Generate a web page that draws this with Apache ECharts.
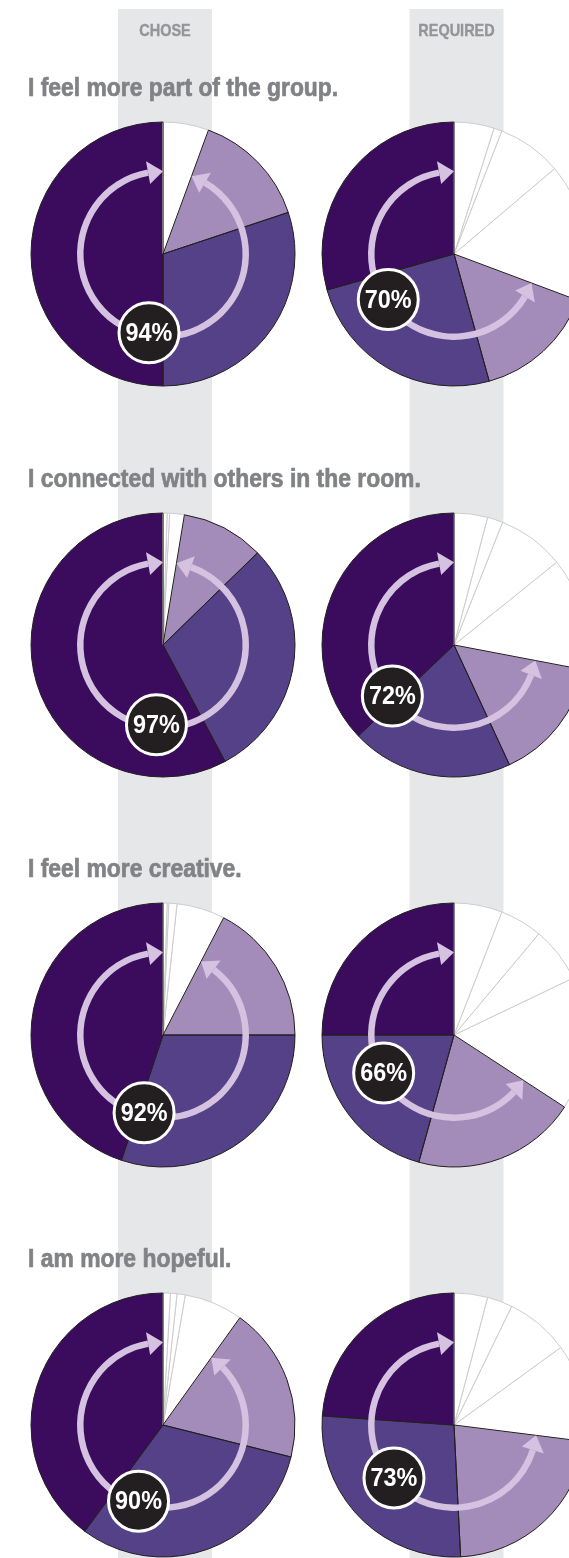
<!DOCTYPE html>
<html>
<head>
<meta charset="utf-8">
<script src="https://cdn.jsdelivr.net/npm/echarts@6/dist/echarts.min.js"></script>
<style>
html,body{margin:0;padding:0;background:#ffffff;}
#c{width:569px;height:1558px;}
</style>
</head>
<body>
<div id="c"></div>
<script>
// ---------- DATA ----------
const columns = ['CHOSE', 'REQUIRED'];
const questions = [
  'I feel more part of the group.',
  'I connected with others in the room.',
  'I feel more creative.',
  'I am more hopeful.'
];
const categories = ['Strongly agree', 'Agree', 'Somewhat agree', 'Neutral',
                    'Somewhat disagree', 'Disagree', 'Strongly disagree'];

// percent of respondents per category (counter-clockwise from 12 o'clock)
const choseGroup       = [50.0, 30.1, 14.3, 5.6, 0.0, 0.0, 0.0];
const choseConnected   = [57.8, 29.5, 10.1, 1.8, 0.3, 0.5, 0.0];
const choseCreative    = [44.9, 30.1, 17.4, 5.9, 1.0, 0.2, 0.5];
const choseHopeful     = [39.9, 31.2, 19.0, 7.2, 1.0, 0.8, 0.9];
const requiredGroup     = [29.4, 24.9, 15.0, 16.9, 7.9, 1.0, 4.9];
const requiredConnected = [37.1, 19.8, 15.1, 13.8, 8.2, 1.9, 4.1];
const requiredCreative  = [25.0, 20.7, 20.1, 16.3, 6.8, 5.2, 5.9];
const requiredHopeful   = [23.9, 26.9, 22.2, 12.0, 7.8, 3.1, 4.1];

// share that agreed (any level), as printed in the badges
const choseAgree    = [94, 97, 92, 90];
const requiredAgree = [70, 72, 66, 73];

// ---------- LAYOUT / STYLE ----------
const W = 569, H = 1558;
const pieX = [163, 454];
const bandX = [165, 456.5];
const rowY = [254, 645, 1035, 1425];
const R = 132;
const RING_R = 82.75, RING_W = 6.5;
const HEAD_LEN = 15, HEAD_HW = 11.5;
const BADGE_R = 80, BADGE_SIZE = 30;
const sliceColors = ['#3b0c5d', '#544187', '#a38cba', '#ffffff', '#ffffff', '#ffffff', '#ffffff'];
const ARROW = '#d4c2e0';
const OUTLINE = '#231f20';
const GREYLINE = '#cdcdcd';
const FAMILY = 'Liberation Sans';

const chart = echarts.init(document.getElementById('c'), null, {renderer: 'canvas', width: W, height: H});

const series = [];
const graphics = [];

// grey column bands
bandX.forEach(function (x) {
  graphics.push({type: 'rect', shape: {x: x - 47, y: 9, width: 94, height: H - 9},
    style: {fill: '#e6e7e8'}, z: 0, silent: true});
});
// column headers
columns.forEach(function (t, i) {
  graphics.push({type: 'text', x: bandX[i], y: 31, scaleX: 0.85, z: 1, silent: true,
    style: {text: t, fill: '#939598', stroke: '#939598', lineWidth: 0.4,
      fontFamily: FAMILY, fontWeight: 'bold', fontSize: 17,
      textAlign: 'center', textVerticalAlign: 'middle'}});
});
// question titles
questions.forEach(function (q, i) {
  graphics.push({type: 'text', x: 28, y: rowY[i] - 165, scaleX: 0.88, z: 1, silent: true,
    style: {text: q, fill: '#808285', stroke: '#808285', lineWidth: 0.7,
      fontFamily: FAMILY, fontWeight: 'bold', fontSize: 26,
      textAlign: 'left', textVerticalAlign: 'middle'}});
});

function pt(cx, cy, r, phiDeg) { // phi counter-clockwise from 12 o'clock
  const p = phiDeg * Math.PI / 180;
  return [cx - r * Math.sin(p), cy - r * Math.cos(p)];
}

function addPie(values, label, cx, cy) {
  const base = {type: 'pie', silent: true, animation: false, center: [cx, cy],
    startAngle: 90, clockwise: false, avoidLabelOverlap: false,
    label: {show: false}, labelLine: {show: false}, emphasis: {disabled: true}};
  // filled slices, white ones outlined in grey
  series.push(Object.assign({}, base, {radius: [0, R], z: 2,
    data: values.map(function (v, i) {
      return {name: categories[i], value: v,
        itemStyle: {color: sliceColors[i], borderColor: i < 3 ? OUTLINE : GREYLINE, borderWidth: i < 3 ? 0 : 1}};
    })}));
  // dark outline of the agreeing slices on top
  series.push(Object.assign({}, base, {radius: [0, R], z: 2,
    data: values.map(function (v, i) {
      return {name: categories[i], value: v,
        itemStyle: {color: 'rgba(0,0,0,0)', borderColor: OUTLINE, borderWidth: i < 3 ? 1 : 0}};
    })}));
  // arrow ring spanning the agreeing share
  const agree = values[0] + values[1] + values[2];
  const hp = HEAD_LEN / (2 * Math.PI * RING_R) * 100;
  series.push(Object.assign({}, base, {radius: [RING_R - RING_W / 2, RING_R + RING_W / 2], z: 3,
    data: [
      {name: 'gap', value: hp, itemStyle: {color: 'rgba(0,0,0,0)'}},
      {name: 'agree', value: agree - 2 * hp, itemStyle: {color: ARROW}},
      {name: 'rest', value: 100 - agree + hp, itemStyle: {color: 'rgba(0,0,0,0)'}}
    ]}));
  // arrow heads
  const a0 = 0, a1 = agree * 3.6, hd = hp * 3.6;
  graphics.push({type: 'polygon', z: 10, silent: true,
    shape: {points: [pt(cx, cy, RING_R, a0), pt(cx, cy, RING_R - HEAD_HW, a0 + hd), pt(cx, cy, RING_R + HEAD_HW, a0 + hd)]},
    style: {fill: ARROW}});
  graphics.push({type: 'polygon', z: 10, silent: true,
    shape: {points: [pt(cx, cy, RING_R, a1), pt(cx, cy, RING_R - HEAD_HW, a1 - hd), pt(cx, cy, RING_R + HEAD_HW, a1 - hd)]},
    style: {fill: ARROW}});
  // badge
  const b = pt(cx, cy, BADGE_R, agree / 2 * 3.6);
  graphics.push({type: 'circle', z: 11, silent: true, shape: {cx: b[0], cy: b[1], r: BADGE_SIZE},
    style: {fill: OUTLINE, stroke: '#ffffff', lineWidth: 3}});
  graphics.push({type: 'text', z: 12, silent: true, x: b[0], y: b[1] + 1, scaleX: 0.9,
    style: {text: label + '%', fill: '#ffffff', fontFamily: FAMILY, fontWeight: 'bold', fontSize: 26,
      textAlign: 'center', textVerticalAlign: 'middle'}});
}

const choseSets = [choseGroup, choseConnected, choseCreative, choseHopeful];
const requiredSets = [requiredGroup, requiredConnected, requiredCreative, requiredHopeful];
choseSets.forEach(function (v, i) { addPie(v, choseAgree[i], pieX[0], rowY[i]); });
requiredSets.forEach(function (v, i) { addPie(v, requiredAgree[i], pieX[1], rowY[i]); });

chart.setOption({
  backgroundColor: '#ffffff',
  animation: false,
  series: series,
  graphic: {elements: graphics}
});
</script>
</body>
</html>
